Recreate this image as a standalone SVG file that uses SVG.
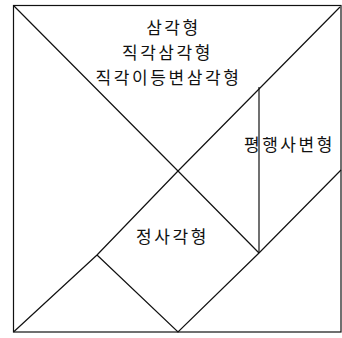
<svg xmlns="http://www.w3.org/2000/svg" width="342" height="338" viewBox="0 0 342 338">
<style>
.l{stroke:#111;stroke-width:1.2;fill:none}
.t{font-family:"Noto Sans CJK KR","Noto Sans",sans-serif;font-size:17px;letter-spacing:2.6px;fill:#111;text-anchor:middle}
</style>
<rect width="342" height="338" fill="#fff"/>
<g id="connectors">
<rect class="l" x="13.5" y="5.5" width="327.5" height="326.5"/>
<polyline class="l" points="13.5,5.5 178,171 259,253"/>
<polyline class="l" points="340,7 178,171 97,255 13.5,332"/>
<polyline class="l" points="97,255 178,332 259,253 341,170"/>
<line class="l" x1="259" y1="87" x2="259" y2="253"/>
</g>
<g id="label-triangle"><text class="t" x="173.5" y="34">삼각형</text></g>
<g id="label-right-triangle"><text class="t" x="167.5" y="59">직각삼각형</text></g>
<g id="label-isosceles"><text class="t" x="168.5" y="84">직각이등변삼각형</text></g>
<g id="label-parallelogram"><text class="t" x="289.5" y="151">평행사변형</text></g>
<g id="label-square"><text class="t" x="172.5" y="243">정사각형</text></g>
</svg>
